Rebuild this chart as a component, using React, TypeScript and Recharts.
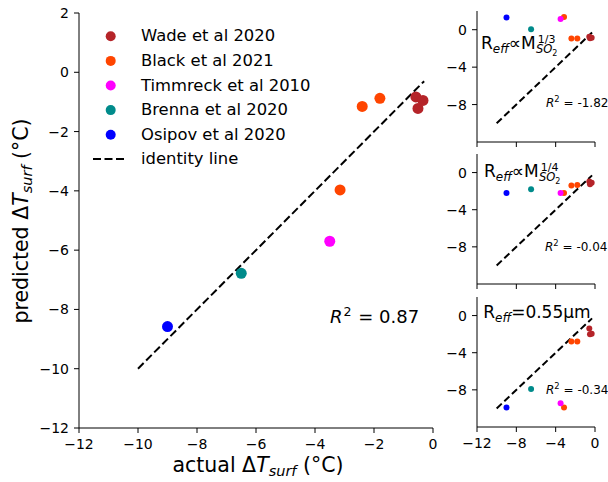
import React from "react";
import { ScatterChart, Scatter, XAxis, YAxis, ReferenceLine } from "recharts";

const studies = [
  "Wade et al 2020",
  "Black et al 2021",
  "Timmreck et al 2010",
  "Brenna et al 2020",
  "Osipov et al 2020",
];
const studyColors = ["#b52429", "#ff4500", "#ff00ff", "#008b8b", "#0000ff"];

// actual surface temperature change per study (°C)
const wadeActual = [-0.58, -0.51, -0.34];
const blackActual = [-2.4, -1.8, -3.15];
const timmreckActual = [-3.5];
const brennaActual = [-6.5];
const osipovActual = [-9.0];

// predicted, main model
const wadePred = [-0.83, -1.22, -0.95];
const blackPred = [-1.15, -0.88, -3.97];
const timmreckPred = [-5.7];
const brennaPred = [-6.78];
const osipovPred = [-8.58];

// predicted, Reff ∝ M^(1/3)
const wadeThird = [-0.75, -0.9, -0.85];
const blackThird = [-0.95, -0.95, 1.35];
const timmreckThird = [1.15];
const brennaThird = [0.05];
const osipovThird = [1.3];

// predicted, Reff ∝ M^(1/4)
const wadeQuarter = [-0.95, -1.25, -1.1];
const blackQuarter = [-1.4, -1.35, -2.2];
const timmreckQuarter = [-2.2];
const brennaQuarter = [-1.8];
const osipovQuarter = [-2.2];

// predicted, Reff = 0.55 µm
const wadeFixed = [-1.4, -2.0, -1.95];
const blackFixed = [-2.8, -2.8, -9.9];
const timmreckFixed = [-9.45];
const brennaFixed = [-7.9];
const osipovFixed = [-9.9];

const identityLine = [
  { x: -10, y: -10 },
  { x: -0.3, y: -0.3 },
];

const mainXTicks = [-12, -10, -8, -6, -4, -2, 0];
const mainYTicks = [-12, -10, -8, -6, -4, -2, 0, 2];
const smallXTicks = [-12, -8, -4, 0];
const smallYTicks = [-8, -4, 0];

const actualByStudy = [wadeActual, blackActual, timmreckActual, brennaActual, osipovActual];

const toPoints = (xs: number[], ys: number[]) => xs.map((x, i) => ({ x, y: ys[i] }));
const fmt = (v: number) => (v < 0 ? `\u2212${-v}` : `${v}`);
const dot = (r: number, color: string) => (props: any) =>
  <circle cx={props.cx} cy={props.cy} r={r} fill={color} />;

const FONT = "'DejaVu Sans', sans-serif";
const axisCommon = {
  type: "number" as const,
  allowDataOverflow: true,
  interval: 0 as const,
  tickFormatter: fmt,
  tick: { fontSize: 14, fill: "#000" },
  tickLine: { stroke: "#000" },
  axisLine: { stroke: "#000" },
  tickSize: 5,
};

function StudyScatters({ preds, r }: { preds: number[][]; r: number }) {
  return (
    <>
      {preds.map((p, i) => (
        <Scatter
          key={studies[i]}
          name={studies[i]}
          data={toPoints(actualByStudy[i], p)}
          shape={dot(r, studyColors[i])}
          isAnimationActive={false}
        />
      ))}
    </>
  );
}

function SmallPlot({
  plotTop,
  plotBottom,
  labels,
  preds,
}: {
  plotTop: number;
  plotBottom: number;
  labels: boolean;
  preds: number[][];
}) {
  const top = plotTop - 11;
  const xh = labels ? 30 : 8;
  const height = plotBottom - top + xh + 2;
  return (
    <div style={{ position: "absolute", left: 440, top }}>
      <ScatterChart width={168} height={height} margin={{ top: 11, right: 13, bottom: 2, left: 0 }}>
        <XAxis
          {...axisCommon}
          dataKey="x"
          domain={[-12, 0]}
          ticks={smallXTicks}
          height={xh}
          tickMargin={6}
          tickFormatter={labels ? fmt : () => ""}
        />
        <YAxis {...axisCommon} dataKey="y" domain={[-12, 2]} ticks={smallYTicks} width={37} tickMargin={5} />
        {StudyScatters({ preds, r: 3 })}
        <ReferenceLine
          segment={identityLine}
          stroke="#000"
          strokeWidth={2}
          strokeDasharray="7 3.5"
          ifOverflow="visible"
        />
      </ScatterChart>
    </div>
  );
}

// R_eff ∝ M^{frac}_{SO2} label with stacked super/subscript
function PowerLabel({ x, y, frac }: { x: number; y: number; frac: string }) {
  return (
    <text x={x} y={y} fontSize={17} fill="#000">
      R<tspan fontSize={12} fontStyle="italic" dy={3.7}>eff</tspan>
      <tspan dy={-3.7}>∝M</tspan>
      <tspan fontSize={11} dx={2} dy={-6}>{frac}</tspan>
      <tspan fontSize={11.5} fontStyle="italic" dx={-19.5} dy={10}>SO</tspan>
      <tspan fontSize={8} dy={2.5}>2</tspan>
    </text>
  );
}

export default function App() {
  const legendRows = studies.map((_, i) => 36.3 + i * 24.6);
  return (
    <div
      style={{
        position: "absolute",
        left: 0,
        top: 0,
        width: 608,
        height: 482,
        background: "#fff",
        fontFamily: FONT,
      }}
    >
      <div style={{ position: "absolute", left: 0, top: 0 }}>
        <ScatterChart width={460} height={482} margin={{ top: 13, right: 27, bottom: 24, left: 0 }}>
          <XAxis {...axisCommon} dataKey="x" domain={[-12, 0]} ticks={mainXTicks} height={30} tickMargin={6} />
          <YAxis {...axisCommon} dataKey="y" domain={[-12, 2]} ticks={mainYTicks} width={79} tickMargin={5} />
          {StudyScatters({ preds: [wadePred, blackPred, timmreckPred, brennaPred, osipovPred], r: 5.5 })}
          <ReferenceLine
            segment={identityLine}
            stroke="#000"
            strokeWidth={2}
            strokeDasharray="8 3.5"
            ifOverflow="visible"
          />
        </ScatterChart>
      </div>

      <SmallPlot
        plotTop={11}
        plotBottom={142}
        labels={false}
        preds={[wadeThird, blackThird, timmreckThird, brennaThird, osipovThird]}
      />
      <SmallPlot
        plotTop={154}
        plotBottom={284}
        labels={false}
        preds={[wadeQuarter, blackQuarter, timmreckQuarter, brennaQuarter, osipovQuarter]}
      />
      <SmallPlot
        plotTop={297}
        plotBottom={427}
        labels={true}
        preds={[wadeFixed, blackFixed, timmreckFixed, brennaFixed, osipovFixed]}
      />

      <svg
        width={608}
        height={482}
        style={{ position: "absolute", left: 0, top: 0, pointerEvents: "none", fontFamily: FONT }}
      >
        {/* legend */}
        {studies.map((s, i) => (
          <g key={s}>
            <circle cx={110.7} cy={legendRows[i]} r={5} fill={studyColors[i]} />
            <text x={141} y={legendRows[i] + 5} fontSize={16.4} fill="#000">
              {s}
            </text>
          </g>
        ))}
        <line x1={93} x2={127} y1={159} y2={159} stroke="#000" strokeWidth={2} strokeDasharray="8 3.5" />
        <text x={141} y={164} fontSize={16.4} fill="#000">
          identity line
        </text>

        {/* axis titles */}
        <text x={258} y={472} fontSize={20.5} textAnchor="middle" fill="#000">
          actual Δ<tspan fontStyle="italic">T</tspan>
          <tspan fontSize={14.5} fontStyle="italic" dy={4}>surf</tspan>
          <tspan dy={-4}> (°C)</tspan>
        </text>
        <text transform="translate(28,221) rotate(-90)" fontSize={20.5} textAnchor="middle" fill="#000">
          predicted Δ<tspan fontStyle="italic">T</tspan>
          <tspan fontSize={14.5} fontStyle="italic" dy={4}>surf</tspan>
          <tspan dy={-4}> (°C)</tspan>
        </text>

        {/* main R² */}
        <text x={330} y={323} fontSize={18} fill="#000">
          <tspan fontStyle="italic">R</tspan>
          <tspan fontSize={12.6} dx={1} dy={-7}>2</tspan>
          <tspan dx={1} dy={7}> = 0.87</tspan>
        </text>

        {/* subplot annotations */}
        <PowerLabel x={481} y={49.3} frac="1/3" />
        <PowerLabel x={484} y={177.3} frac="1/4" />
        <text x={483.3} y={318.3} fontSize={17} fill="#000">
          R<tspan fontSize={12} fontStyle="italic" dy={3.7}>eff</tspan>
          <tspan dy={-3.7}>=0.55µm</tspan>
        </text>

        {[
          { x: 546, y: 107.3, t: "-1.82" },
          { x: 545, y: 250.7, t: "-0.04" },
          { x: 546, y: 394, t: "-0.34" },
        ].map((a) => (
          <text key={a.t} x={a.x} y={a.y} fontSize={12} fill="#000">
            <tspan fontStyle="italic">R</tspan>
            <tspan fontSize={8.4} dy={-5}>2</tspan>
            <tspan dy={5}> = {a.t}</tspan>
          </text>
        ))}
      </svg>
    </div>
  );
}
